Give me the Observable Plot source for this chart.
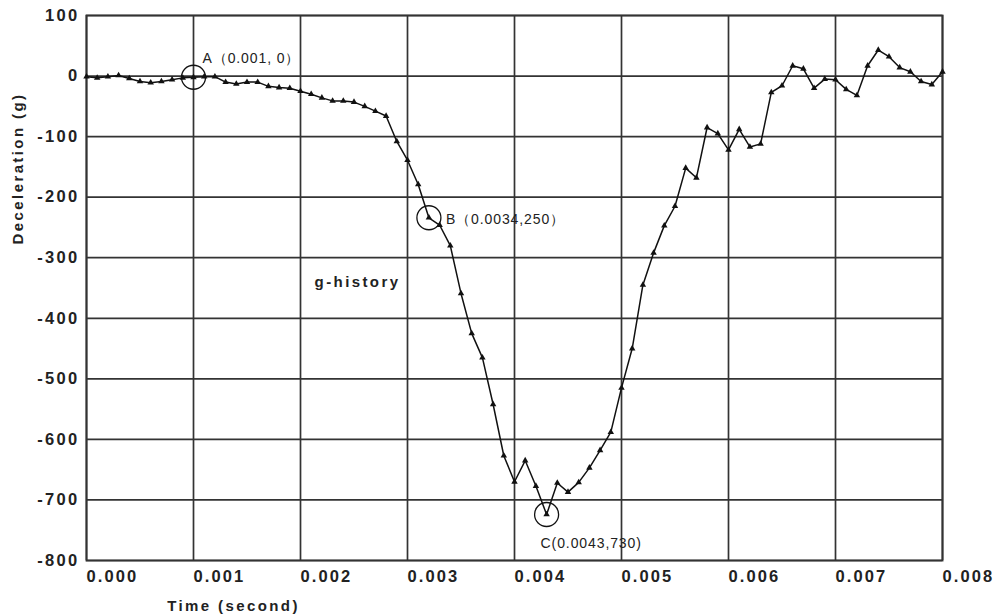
<!DOCTYPE html>
<html>
<head>
<meta charset="utf-8">
<script src="https://cdn.jsdelivr.net/npm/d3@7"></script>
<script src="https://cdn.jsdelivr.net/npm/@observablehq/plot@0.6"></script>
<style>
  html, body { margin: 0; padding: 0; background: #fff; }
  #chart svg { font-family: "Liberation Sans", Arial, sans-serif; }
  #chart svg text { letter-spacing: 2.4px; fill: #222; }
  #chart g[aria-label="x-axis tick label"] text { font-weight: bold; font-size: 16.5px; letter-spacing: 2.1px; }
  #chart g[aria-label="y-axis tick label"] text { font-weight: bold; font-size: 16.5px; letter-spacing: 2.3px; }
</style>
</head>
<body>
<div id="chart"></div>
<script>
// Time (s)
const time = [
  0.0000, 0.0001, 0.0002, 0.0003, 0.0004, 0.0005, 0.0006, 0.0007, 0.0008, 0.0009,
  0.0010, 0.0011, 0.0012, 0.0013, 0.0014, 0.0015, 0.0016, 0.0017, 0.0018, 0.0019,
  0.0020, 0.0021, 0.0022, 0.0023, 0.0024, 0.0025, 0.0026, 0.0027, 0.0028, 0.0029,
  0.0030, 0.0031, 0.0032, 0.0033, 0.0034, 0.0035, 0.0036, 0.0037, 0.0038, 0.0039,
  0.0040, 0.0041, 0.0042, 0.0043, 0.0044, 0.0045, 0.0046, 0.0047, 0.0048, 0.0049,
  0.0050, 0.0051, 0.0052, 0.0053, 0.0054, 0.0055, 0.0056, 0.0057, 0.0058, 0.0059,
  0.0060, 0.0061, 0.0062, 0.0063, 0.0064, 0.0065, 0.0066, 0.0067, 0.0068, 0.0069,
  0.0070, 0.0071, 0.0072, 0.0073, 0.0074, 0.0075, 0.0076, 0.0077, 0.0078, 0.0079,
  0.0080
];
// Deceleration (g)
const decel = [
   -1,   -3,   -1,    1,   -4,   -9,  -11,   -9,   -6,   -3,
   -2,   -1,   -1,  -10,  -13,  -10,  -10,  -17,  -19,  -20,
  -25,  -30,  -36,  -41,  -41,  -43,  -50,  -58,  -66, -108,
 -139, -179, -234, -246, -280, -359, -425, -465, -542, -627,
 -670, -635, -677, -724, -672, -687, -671, -647, -618, -588,
 -515, -450, -345, -292, -247, -215, -152, -168,  -85,  -95,
 -122,  -88, -117, -112,  -27,  -16,   17,   12,  -20,   -5,
   -6,  -22,  -32,   17,   43,   32,   14,    7,   -9,  -14,
    7
];
// Annotated points: label text, marked sample
const annotLabels = ["A（0.001, 0）", "B（0.0034,250）", "C(0.0043,730)"];
const annotTime   = [0.0010, 0.0032, 0.0043];
const annotValue  = [-2, -234, -724];

const xTicks = [0, 0.001, 0.002, 0.003, 0.004, 0.005, 0.006, 0.007, 0.008];
const yTicks = [100, 0, -100, -200, -300, -400, -500, -600, -700, -800];

const yTitle = "Deceleration (g)";
const xTitle = "Time (second)";
const seriesTitle = "g-history";

const data = time.map((t, i) => ({t, v: decel[i]}));
const annots = annotLabels.map((label, i) => ({label, t: annotTime[i], v: annotValue[i]}));

const gridColor = "#333";
const titleStyle = {fontSize: 15, fontWeight: "bold", fill: "#222"};
const annotStyle = {fontSize: 14, fill: "#222"};

const chart = Plot.plot({
  width: 993,
  height: 614,
  marginLeft: 86,
  marginRight: 51,
  marginTop: 15,
  marginBottom: 54,
  style: {background: "#fff", overflow: "visible"},
  x: {domain: [0, 0.008]},
  y: {domain: [-800, 100]},
  marks: [
    Plot.gridX(xTicks, {stroke: gridColor, strokeOpacity: 1, strokeWidth: 1.7}),
    Plot.gridY(yTicks, {stroke: gridColor, strokeOpacity: 1, strokeWidth: 1.7}),
    Plot.frame({stroke: gridColor, strokeWidth: 1.9}),
    Plot.axisX(xTicks, {tickSize: 0, tickPadding: 10, textAnchor: "start", dx: 0, tickFormat: d3.format(".3f"), label: null}),
    Plot.axisY(yTicks, {tickSize: 0, tickPadding: 7, tickFormat: d => String(d), label: null}),
    Plot.line(data, {x: "t", y: "v", stroke: "#111", strokeWidth: 1.5}),
    Plot.dot(data, {x: "t", y: "v", symbol: "triangle", r: 2.4, fill: "#111", stroke: "none"}),
    Plot.dot(annots, {x: "t", y: "v", r: 12, stroke: "#111", strokeWidth: 1.3, fill: "none"}),
    Plot.text(annots.slice(0, 1), {x: "t", y: "v", text: "label", textAnchor: "start", dx: 9, dy: -19, ...annotStyle}),
    Plot.text(annots.slice(1, 2), {x: "t", y: "v", text: "label", textAnchor: "start", dx: 17, dy: 2, ...annotStyle}),
    Plot.text(annots.slice(2, 3), {x: "t", y: "v", text: "label", textAnchor: "start", dx: -6, dy: 29, ...annotStyle}),
    Plot.text([yTitle], {frameAnchor: "top-left", text: d => d, rotate: -90, textAnchor: "middle", lineAnchor: "middle", dx: -68, dy: 153, ...titleStyle}),
    Plot.text([xTitle], {frameAnchor: "bottom-left", text: d => d, textAnchor: "middle", lineAnchor: "middle", dx: 147, dy: 46, ...titleStyle}),
    Plot.text([seriesTitle], {frameAnchor: "top-left", text: d => d, textAnchor: "middle", lineAnchor: "middle", dx: 271, dy: 267, ...titleStyle})
  ]
});
document.getElementById("chart").appendChild(chart);
// annotation labels use tighter letter spacing than the bold titles
d3.select(chart).selectAll("text")
  .filter(function() { return annotLabels.includes(this.textContent); })
  .style("letter-spacing", "0.9px");
</script>
</body>
</html>
